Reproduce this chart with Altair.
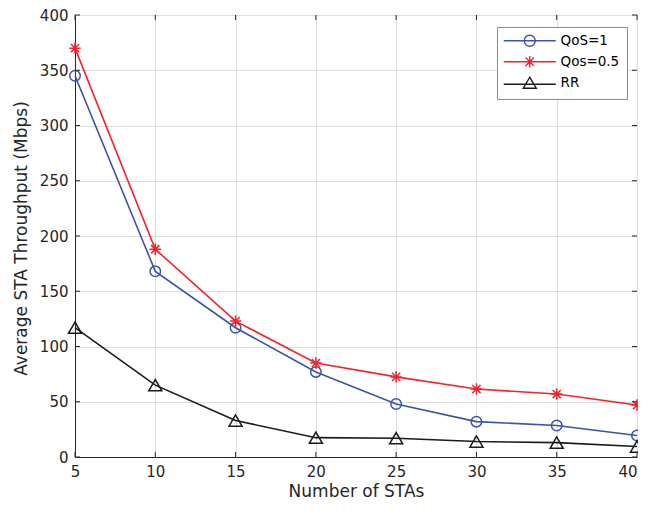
import altair as alt
import pandas as pd

# ---- data ----
num_stas = [5, 10, 15, 20, 25, 30, 35, 40]
qos_1 = [345, 168, 117, 77, 48, 32, 28.5, 19.5]
qos_05 = [370, 188, 123, 85, 72.5, 61.5, 57, 47]
rr = [117, 65, 33, 17.5, 17, 14, 13, 9.5]

series_names = ["QoS=1", "Qos=0.5", "RR"]
series_colors = ["#3a54a8", "#f8202a", "#1a1a1a"]

x_ticks = [5, 10, 15, 20, 25, 30, 35, 40]
y_ticks = [0, 50, 100, 150, 200, 250, 300, 350, 400]

W, H = 562, 442
FONT = "DejaVu Sans"
AX = "#262626"

rows = []
for name, vals in zip(series_names, [qos_1, qos_05, rr]):
    for x, y in zip(num_stas, vals):
        rows.append({"n": x, "v": y, "series": name})
df = pd.DataFrame(rows)

xs = alt.Scale(domain=[5, 40], nice=False, zero=False)
ys = alt.Scale(domain=[0, 400], nice=False)

x_axis = alt.Axis(values=x_ticks, title="Number of STAs", labelFont=FONT, labelFontSize=15,
                  labelColor=AX, titleFont=FONT, titleFontSize=17, titleFontWeight="normal",
                  titleColor=AX, tickSize=0, labelPadding=19, labelBaseline="alphabetic",
                  labelAlign=alt.condition("datum.value == 40", alt.value("right"), alt.value("center")),
                  titleBaseline="alphabetic", titleY=39, titleX=W / 2, titleAlign="center",
                  domainColor=AX, grid=True, gridColor="#dedede", gridWidth=1)
y_axis = alt.Axis(values=y_ticks, title="Average STA Throughput (Mbps)", labelFont=FONT,
                  labelFontSize=15, labelColor=AX, titleFont=FONT, titleFontSize=17,
                  titleFontWeight="normal", titleColor=AX, tickSize=0, labelPadding=7,
                  titleAngle=-90, titleBaseline="middle", titleAlign="center",
                  titleX=-54, titleY=H / 2 + 2, domainColor=AX, grid=True,
                  gridColor="#dedede", gridWidth=1)

base = alt.Chart(df)

asterisk = "M0,-1L0,1M-1,0L1,0M-0.72,-0.72L0.72,0.72M-0.72,0.72L0.72,-0.72"
marker_shapes = ["circle", asterisk, "triangle-up"]
marker_sizes = [110, 130, 170]

layers = []
# lines
for i, name in enumerate(series_names):
    layers.append(
        base.transform_filter(alt.datum.series == name)
        .mark_line(color=series_colors[i], strokeWidth=1.6)
        .encode(x=alt.X("n:Q", scale=xs, axis=x_axis), y=alt.Y("v:Q", scale=ys, axis=y_axis))
    )
# markers
for i, name in enumerate(series_names):
    layers.append(
        base.transform_filter(alt.datum.series == name)
        .mark_point(shape=marker_shapes[i], size=marker_sizes[i], filled=False,
                    color=series_colors[i], strokeWidth=1.5, opacity=1)
        .encode(x=alt.X("n:Q", scale=xs), y=alt.Y("v:Q", scale=ys))
    )

# legend layer (invisible marks, legend symbols show line + marker)
leg_circle = "M-5.2,0L5.2,0M-1.1,0A1.1,1.1 0 1,1 1.1,0A1.1,1.1 0 1,1 -1.1,0Z"
leg_ast = "M-5.2,0L5.2,0M0,-1.15L0,1.15M-1.15,0L1.15,0M-0.83,-0.83L0.83,0.83M-0.83,0.83L0.83,-0.83"
leg_tri = "M-5.2,0.3L5.2,0.3M0,-1.1L-1.3,1.1L1.3,1.1Z"
legend_layer = base.mark_point(filled=False, opacity=0).encode(
    x=alt.X("n:Q", scale=xs),
    y=alt.Y("v:Q", scale=ys),
    color=alt.Color("series:N", scale=alt.Scale(domain=series_names, range=series_colors),
                    legend=alt.Legend(title=None, orient="none", legendX=422, legendY=12,
                                      labelFont=FONT, labelFontSize=13.5, labelColor="#000000",
                                      symbolSize=100, symbolStrokeWidth=1.4, symbolOpacity=1,
                                      symbolOffset=19, labelOffset=24, padding=7,
                                      rowPadding=3, strokeColor="#8a8a8a", fillColor="#ffffff",
                                      symbolFillColor="transparent")),
    shape=alt.Shape("series:N", scale=alt.Scale(domain=series_names,
                                                range=[leg_circle, leg_ast, leg_tri])),
)
layers.append(legend_layer)

# inward tick marks on all four sides
xt = pd.DataFrame({"t": x_ticks})
yt = pd.DataFrame({"t": y_ticks})
layers.append(alt.Chart(xt).mark_rule(color=AX, strokeWidth=1).encode(
    x=alt.X("t:Q", scale=xs), y=alt.value(H), y2=alt.value(H - 5)))
layers.append(alt.Chart(xt).mark_rule(color=AX, strokeWidth=1).encode(
    x=alt.X("t:Q", scale=xs), y=alt.value(0), y2=alt.value(5)))
layers.append(alt.Chart(yt).mark_rule(color=AX, strokeWidth=1).encode(
    y=alt.Y("t:Q", scale=ys), x=alt.value(0), x2=alt.value(5)))
layers.append(alt.Chart(yt).mark_rule(color=AX, strokeWidth=1).encode(
    y=alt.Y("t:Q", scale=ys), x=alt.value(W), x2=alt.value(W - 5)))

chart = alt.layer(*layers).properties(
    width=W, height=H,
    autosize=alt.AutoSizeParams(type="none"),
    padding={"left": 67, "top": 7, "right": 1, "bottom": 45},
).configure_view(stroke=AX, strokeWidth=1).configure(background="white")

chart.save("out.html", embed_options={"renderer": "svg", "actions": False})
